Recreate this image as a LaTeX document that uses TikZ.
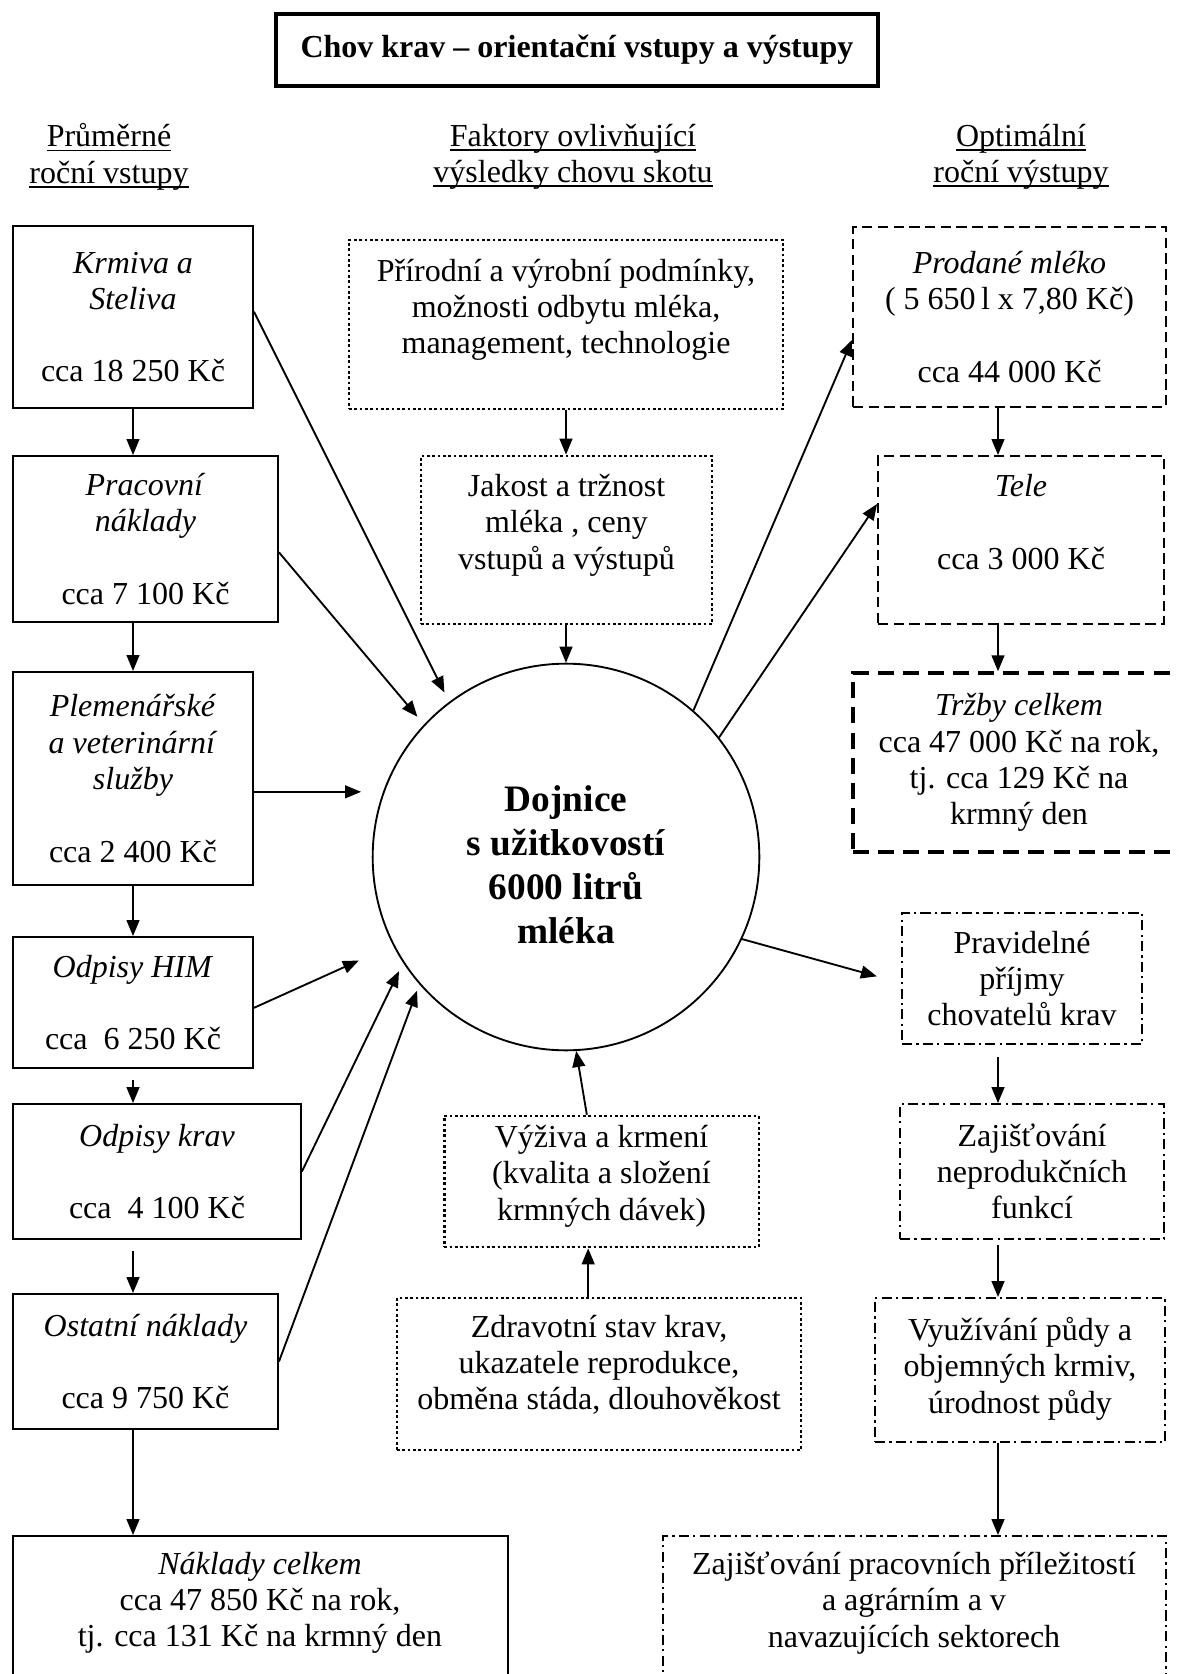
\documentclass[tikz,border=0pt]{standalone}
\usepackage{fontspec}
\setmainfont{Liberation Serif}
\usetikzlibrary{arrows.meta}

\newcommand{\podtrz}[1]{\setbox0\hbox{#1}\rlap{\rule[-1.6pt]{\wd0}{0.6pt}}\box0}

\begin{document}
\begin{tikzpicture}[x=0.375pt,y=-0.375pt,
  font=\fontsize{12}{13.6}\selectfont,
  every node/.style={align=center, inner sep=0pt},
  ramec/.style={draw, rectangle, line width=0.7pt},
  plny/.style={ramec},
  teckovany/.style={ramec, line width=1pt, dash pattern=on 1pt off 1pt},
  carkovany/.style={ramec, dash pattern=on 3.9pt off 2pt},
  silny/.style={ramec, line width=1.3pt, dash pattern=on 6pt off 3.4pt},
  cerchovany/.style={ramec, dash pattern=on 3.8pt off 1.6pt on 0.8pt off 1.6pt},
  sipka/.style={line width=0.7pt, -{Triangle[length=6pt,width=4.8pt]}}]
  % Chov krav: vstupy -> dojnice -> vystupy
  \useasboundingbox (0,0) rectangle (1178,1674);

  \node[ramec, line width=1.5pt, minimum width=225.75pt, minimum height=27pt,
    font=\bfseries\fontsize{12}{13.6}\selectfont] (nazev) at (577,50)
    {Chov krav -- orientační vstupy a výstupy};

  \node (hlavaL) at (109,157) {\podtrz{Průměrné}\\ \podtrz{roční vstupy}};
  \node (hlavaS) at (573,157) {\podtrz{Faktory ovlivňující}\\ \podtrz{výsledky chovu skotu}};
  \node (hlavaP) at (1021,157) {\podtrz{Optimální}\\ \podtrz{roční výstupy}};

  % vstupy
  \node[plny, minimum width=90pt, minimum height=68.25pt] (krmiva) at (133,317)
    {\textit{Krmiva a}\\ \textit{Steliva}\\[13.6pt] cca 18 250 Kč};
  \node[plny, minimum width=99.4pt, minimum height=62.25pt] (pracovni) at (145.5,539)
    {\textit{Pracovní}\\ \textit{náklady}\\[13.6pt] cca 7 100 Kč};
  \node[plny, minimum width=90pt, minimum height=79.9pt] (plemen) at (133,778.5)
    {\textit{Plemenářské}\\ \textit{a veterinární}\\ \textit{služby}\\[13.6pt] cca 2 400 Kč};
  \node[plny, minimum width=90pt, minimum height=49.1pt] (him) at (133,1002.5)
    {\textit{Odpisy HIM}\\[13.6pt] cca\ \ 6 250 Kč};
  \node[plny, minimum width=108pt, minimum height=50.6pt] (krav) at (157,1171.5)
    {\textit{Odpisy krav}\\[13.6pt] cca\ \ 4 100 Kč};
  \node[plny, minimum width=99.4pt, minimum height=50.6pt] (ostatni) at (145.5,1361.5)
    {\textit{Ostatní náklady}\\[13.6pt] cca 9 750 Kč};
  \node[plny, minimum width=185.6pt, minimum height=61.5pt] (naklady) at (260.5,1618) {};
  \node (nakladytext) at (260,1603)
    {\textit{Náklady celkem}\\ cca 47 850 Kč na rok,\\ tj. cca 131 Kč na krmný den};

  % faktory
  \node[teckovany, minimum width=162.75pt, minimum height=63.4pt] (prirodni) at (566,324.5)
    {Přírodní a výrobní podmínky,\\ možnosti odbytu mléka,\\ management, technologie\\ \mbox{}};
  \node[teckovany, minimum width=109.1pt, minimum height=63pt] (jakost) at (566.5,540)
    {Jakost a tržnost\\ mléka , ceny\\ vstupů a výstupů\\ \mbox{}};
  \node[draw, circle, line width=0.7pt, minimum size=145pt,
    font=\bfseries\fontsize{14}{16.5}\selectfont] (dojnice) at (566,857)
    {\rule{0pt}{15.5pt}Dojnice\\ s užitkovostí\\ 6000 litrů\\ mléka};
  \node[teckovany, minimum width=118pt, minimum height=49.1pt] (vyziva) at (601.5,1181.5)
    {Výživa a krmení\\ (kvalita a složení\\ krmných dávek)\\[-7pt] \mbox{}};
  \node[teckovany, minimum width=151.5pt, minimum height=57pt] (zdravotni) at (599,1374)
    {Zdravotní stav krav,\\ ukazatele reprodukce,\\ obměna stáda, dlouhověkost\\[-5pt] \mbox{}};

  % vystupy
  \node[carkovany, minimum width=117.4pt, minimum height=67.5pt] (prodane) at (1009.5,317)
    {\textit{Prodané mléko}\\ (~5~650\,l x 7,80 Kč)\\[13.6pt] cca 44 000 Kč};
  \node[carkovany, minimum width=107.25pt, minimum height=63pt] (tele) at (1021,540)
    {\textit{Tele}\\[13.6pt] cca 3 000 Kč\\ \mbox{}};
  \node[silny, minimum width=124.5pt, minimum height=67.1pt] (trzby) at (1019,762.5)
    {\textit{Tržby celkem}\\ cca 47 000 Kč na rok,\\ tj. cca 129 Kč na\\ krmný den};
  \node[cerchovany, minimum width=90pt, minimum height=49.1pt] (pravidelne) at (1022,978.5)
    {Pravidelné\\ příjmy\\ chovatelů krav};
  \node[cerchovany, minimum width=99pt, minimum height=50.6pt] (nepro) at (1032,1171.5)
    {Zajišťování\\ neprodukčních\\ funkcí};
  \node[cerchovany, minimum width=108.75pt, minimum height=54pt] (vyuzivani) at (1020,1370)
    {Využívání půdy a\\ objemných krmiv,\\ úrodnost půdy\\[-10pt] \mbox{}};
  \node[cerchovany, minimum width=188.6pt, minimum height=61.5pt] (pracovnich) at (914.5,1618) {};
  \node (pracovnichtext) at (914,1603)
    {Zajišťování pracovních příležitostí\\ a agrárním a v\\ navazujících sektorech};

  \coordinate (osaL) at (133,0);
  \coordinate (osaP) at (998,0);
  \coordinate (plemvystup) at ([yshift=-5pt]plemen.east);

  \draw[sipka] (krmiva.south) -- (pracovni.north -| osaL);
  \draw[sipka] (pracovni.south -| osaL) -- (plemen.north);
  \draw[sipka] (plemen.south) -- (him.north);
  \draw[sipka, shorten <=4pt] (him.south) -- (krav.north -| osaL);
  \draw[sipka, shorten <=4pt] (krav.south -| osaL) -- (ostatni.north -| osaL);
  \draw[sipka] (ostatni.south -| osaL) -- (naklady.north -| osaL);

  \draw[sipka, shorten >=3.9pt] ([yshift=2pt]krmiva.east) -- (dojnice.127);
  \draw[sipka, shorten >=3.8pt] ([yshift=-5pt]pracovni.east) -- (dojnice.137);
  \draw[sipka, shorten >=4pt] (plemvystup) -- (plemvystup -| dojnice.west);
  \draw[sipka, shorten >=14pt] ([yshift=-2pt]him.east) -- (dojnice.207);
  \draw[sipka, shorten >=3.5pt] (krav.east) -- (dojnice.213);
  \draw[sipka, shorten >=2.5pt] (ostatni.east) -- (dojnice.221);

  \draw[sipka] (prirodni.south -| dojnice) -- (jakost.north -| dojnice);
  \draw[sipka] (jakost.south -| dojnice) -- (dojnice.north);
  \draw[sipka] ([xshift=-5pt]zdravotni.north -| vyziva) -- ([xshift=-5pt]vyziva.south);
  \draw[sipka] ([xshift=-5.5pt]vyziva.north) -- (dojnice.273);

  \draw[sipka] (dojnice.49) -- ([yshift=-8.6pt]prodane.west);
  \draw[sipka] (dojnice.38) -- ([yshift=13.5pt]tele.west);
  \draw[sipka, shorten >=9.4pt] (dojnice.-25) -- ([yshift=-1.7pt]pravidelne.west);

  \draw[sipka] (prodane.south -| osaP) -- (tele.north -| osaP);
  \draw[sipka] (tele.south -| osaP) -- (trzby.north -| osaP);
  \draw[sipka, shorten <=4.5pt] (pravidelne.south -| osaP) -- (nepro.north -| osaP);
  \draw[sipka, shorten <=2pt] (nepro.south -| osaP) -- (vyuzivani.north -| osaP);
  \draw[sipka] (vyuzivani.south -| osaP) -- (pracovnich.north -| osaP);
\end{tikzpicture}
\end{document}
